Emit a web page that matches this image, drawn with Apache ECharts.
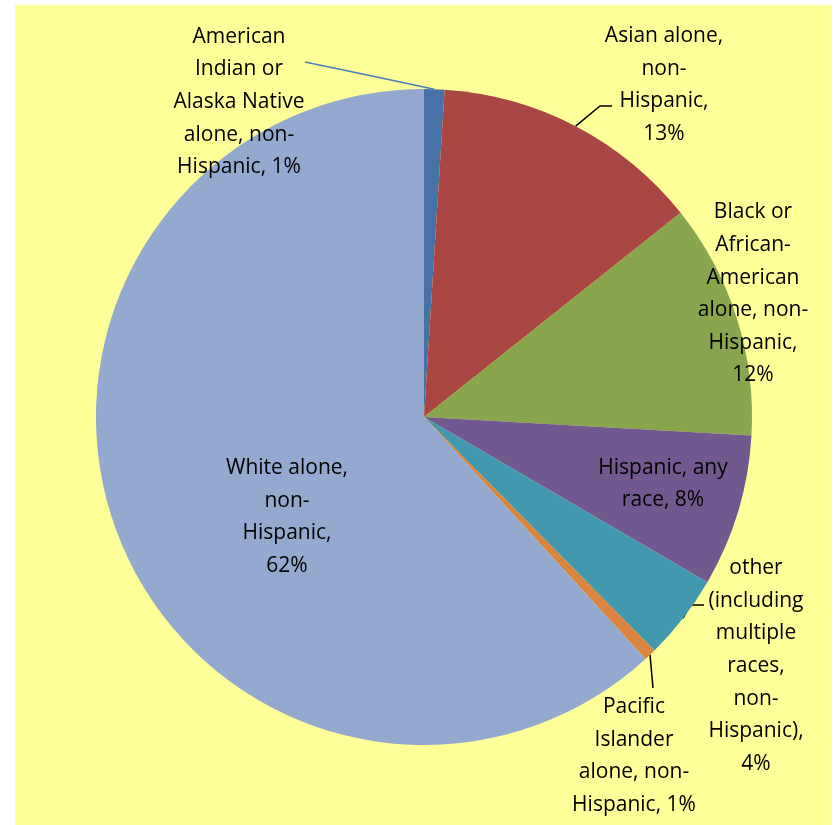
<!DOCTYPE html>
<html><head><meta charset="utf-8">
<script src="https://cdn.jsdelivr.net/npm/echarts@6/dist/echarts.min.js"></script>
<style>html,body{margin:0;padding:0;background:#fff}#chart{width:837px;height:825px}</style>
</head><body><div id="chart"></div>
<script>
const categories = [
  'American Indian or Alaska Native alone, non-Hispanic',
  'Asian alone, non-Hispanic',
  'Black or African-American alone, non-Hispanic',
  'Hispanic, any race',
  'other (including multiple races, non-Hispanic)',
  'Pacific Islander alone, non-Hispanic',
  'White alone, non-Hispanic'
];
const shares = [1.0, 13.3, 11.6, 7.5, 4.2, 0.6, 61.8];
const labelWrapped = [
  'American\nIndian or\nAlaska Native\nalone, non-\nHispanic, %P',
  'Asian alone,\nnon-\nHispanic,\n%P',
  'Black or\nAfrican-\nAmerican\nalone, non-\nHispanic,\n%P',
  'Hispanic, any\nrace, %P',
  'other\n(including\nmultiple\nraces,\nnon-\nHispanic),\n%P',
  'Pacific\nIslander\nalone, non-\nHispanic, %P',
  'White alone,\nnon-\nHispanic,\n%P'
];
const sliceColors = ['#4672A8', '#AA4643', '#89A54E', '#71588F', '#4198AF', '#DB843D', '#93A9CF'];
const labelPlace = ['outside', 'outside', 'outside', 'inside', 'outside', 'outside', 'inside'];
const labelCenters = [[239, 102], [664, 85], [753, 294], [663, 484], [756, 666], [634, 756], [287, 517]];
// leader line end offset from label centre, and horizontal elbow length (0 = straight)
const leaderEnds = [[66, -40, 0], [-52, 21, 12], null, null, [-52, -61, 14], [19, -68, 0], null];

const chart = echarts.init(document.getElementById('chart'), null, {renderer: 'canvas'});
const data = categories.map((name, i) => ({
  name: name,
  value: shares[i],
  itemStyle: {color: sliceColors[i]},
  label: {position: labelPlace[i]},
  labelLine: {
    show: leaderEnds[i] !== null,
    lineStyle: {color: i === 0 ? '#4A7EBB' : '#000'}
  }
}));
chart.setOption({
  backgroundColor: '#fff',
  animation: false,
  graphic: [{
    type: 'rect', z: -10, silent: true,
    shape: {x: 15, y: 5, width: 817, height: 820},
    style: {fill: '#FFFF99'}
  }],
  series: [{
    type: 'pie',
    center: [424, 417],
    radius: [0, 328],
    startAngle: 90,
    clockwise: true,
    avoidLabelOverlap: false,
    percentPrecision: 1,
    itemStyle: {borderWidth: 0},
    emphasis: {disabled: true},
    label: {
      show: true,
      color: '#000',
      fontFamily: 'Open Sans',
      fontSize: 21,
      lineHeight: 32.6,
      align: 'center',
      formatter: p => labelWrapped[p.dataIndex].replace('%P', Math.round(p.percent) + '%')
    },
    labelLine: {show: true, length: 15, length2: 10, lineStyle: {width: 1.5}},
    labelLayout: p => {
      const i = p.dataIndex;
      const c = labelCenters[i];
      const out = {x: c[0], y: c[1], align: 'center', verticalAlign: 'middle', hideOverlap: false};
      const le = leaderEnds[i];
      if (le && p.labelLinePoints) {
        const a = p.labelLinePoints[0];
        const end = [c[0] + le[0], c[1] + le[1]];
        const mid = le[2] ? [end[0] - le[2], end[1]] : [(a[0] + end[0]) / 2, (a[1] + end[1]) / 2];
        out.labelLinePoints = [[a[0], a[1]], mid, end];
      }
      return out;
    },
    data: data
  }]
});
</script>
</body></html>
